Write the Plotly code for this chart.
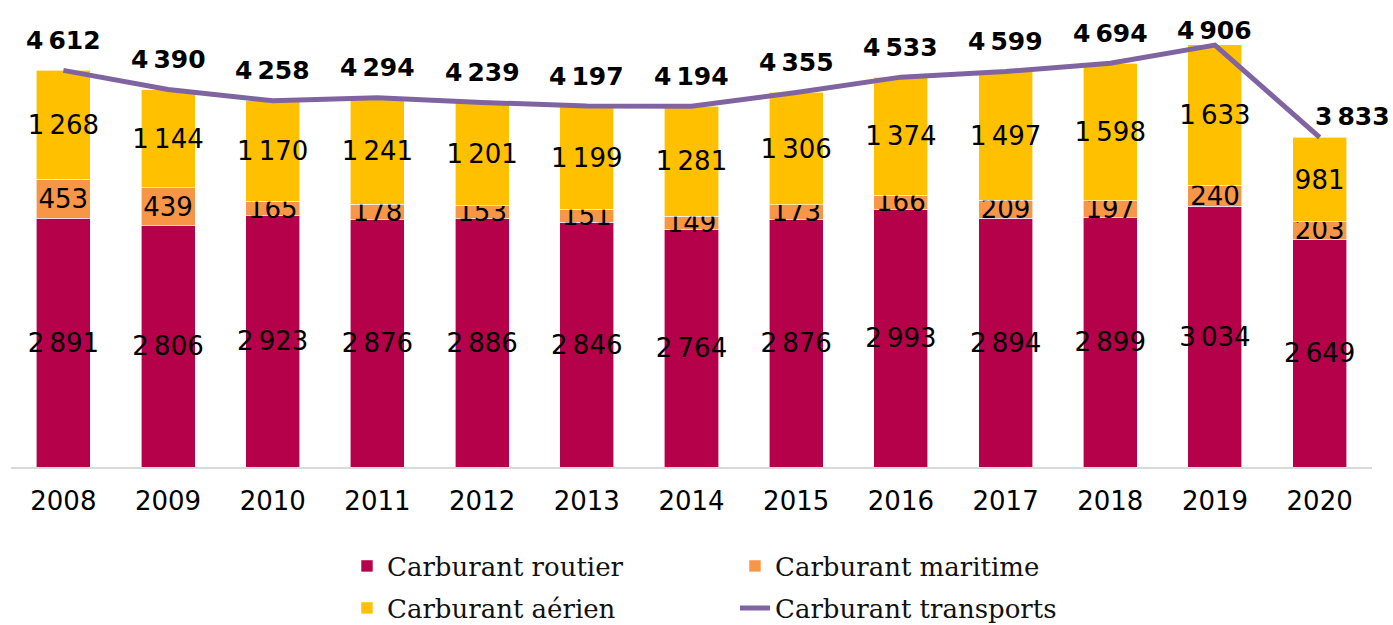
import plotly.graph_objects as go

years = ["2008", "2009", "2010", "2011", "2012", "2013", "2014", "2015", "2016", "2017", "2018", "2019", "2020"]
routier = [2891, 2806, 2923, 2876, 2886, 2846, 2764, 2876, 2993, 2894, 2899, 3034, 2649]
maritime = [453, 439, 165, 178, 153, 151, 149, 173, 166, 209, 197, 240, 203]
aerien = [1268, 1144, 1170, 1241, 1201, 1199, 1281, 1306, 1374, 1497, 1598, 1633, 981]
totals = [4612, 4390, 4258, 4294, 4239, 4197, 4194, 4355, 4533, 4599, 4694, 4906, 3833]

C_ROUT = "#B5004A"
C_MAR = "#F79646"
C_AER = "#FFC000"
C_LINE = "#8064A2"

def fmt(v):
    return f"{v:,}".replace(",", "\u2009")

lab_font = dict(family="DejaVu Sans", size=26, color="black")

fig = go.Figure()
for name, vals, col, lg in [("Carburant routier", routier, C_ROUT, "legend"),
                            ("Carburant maritime", maritime, C_MAR, "legend"),
                            ("Carburant aérien", aerien, C_AER, "legend2")]:
    fig.add_trace(go.Bar(
        x=years, y=vals, name=name, legend=lg,
        marker=dict(color=col, line=dict(color="white", width=0.6)),
        text=[fmt(v) for v in vals], textposition="inside",
        insidetextanchor="middle", constraintext="none",
        textfont=lab_font, textangle=0, cliponaxis=False,
    ))

fig.add_trace(go.Scatter(
    x=years, y=totals, name="Carburant transports", legend="legend2",
    mode="lines", line=dict(color=C_LINE, width=5),
))

# label offsets (pixels) for the total labels
n = len(totals)
yshifts = [30] * n
xshifts = [0] * n
yshifts[n - 2] = 15
yshifts[n - 1] = 21
xshifts[n - 1] = 33
for i, t in enumerate(totals):
    fig.add_annotation(x=i, y=t, xref="x", yref="y", text=fmt(t), showarrow=False,
                       yanchor="middle", yshift=yshifts[i], xshift=xshifts[i],
                       font=dict(family="DejaVu Sans", size=25, color="black", weight="bold"))

leg_common = dict(orientation="h", xanchor="left", yanchor="middle", traceorder="normal",
                  xref="container", yref="container",
                  entrywidth=343, entrywidthmode="pixels",
                  font=dict(family="DejaVu Serif", size=26, color="#111111"),
                  bgcolor="rgba(0,0,0,0)", tracegroupgap=0)

fig.update_layout(
    width=1393, height=625,
    margin=dict(l=11, r=21, t=30, b=158, autoexpand=False),
    barmode="stack", bargap=0.484,
    plot_bgcolor="white", paper_bgcolor="white",
    showlegend=True,
    legend=dict(x=0.2491, y=1 - 566 / 625, **leg_common),
    legend2=dict(x=0.2491, y=1 - 608 / 625, **leg_common),
    xaxis=dict(type="category", range=[-0.5, len(years) - 0.5], showgrid=False,
               automargin=False, showline=True, linecolor="#D9D9D9", linewidth=2,
               ticks="", ticklabelstandoff=10,
               tickfont=dict(family="DejaVu Sans", size=26, color="black")),
    yaxis=dict(range=[0, 5081], visible=False, showgrid=False, automargin=False),
)

fig.write_html("out.html", config={"displayModeBar": False},
               post_script="document.body.style.margin='0';")
